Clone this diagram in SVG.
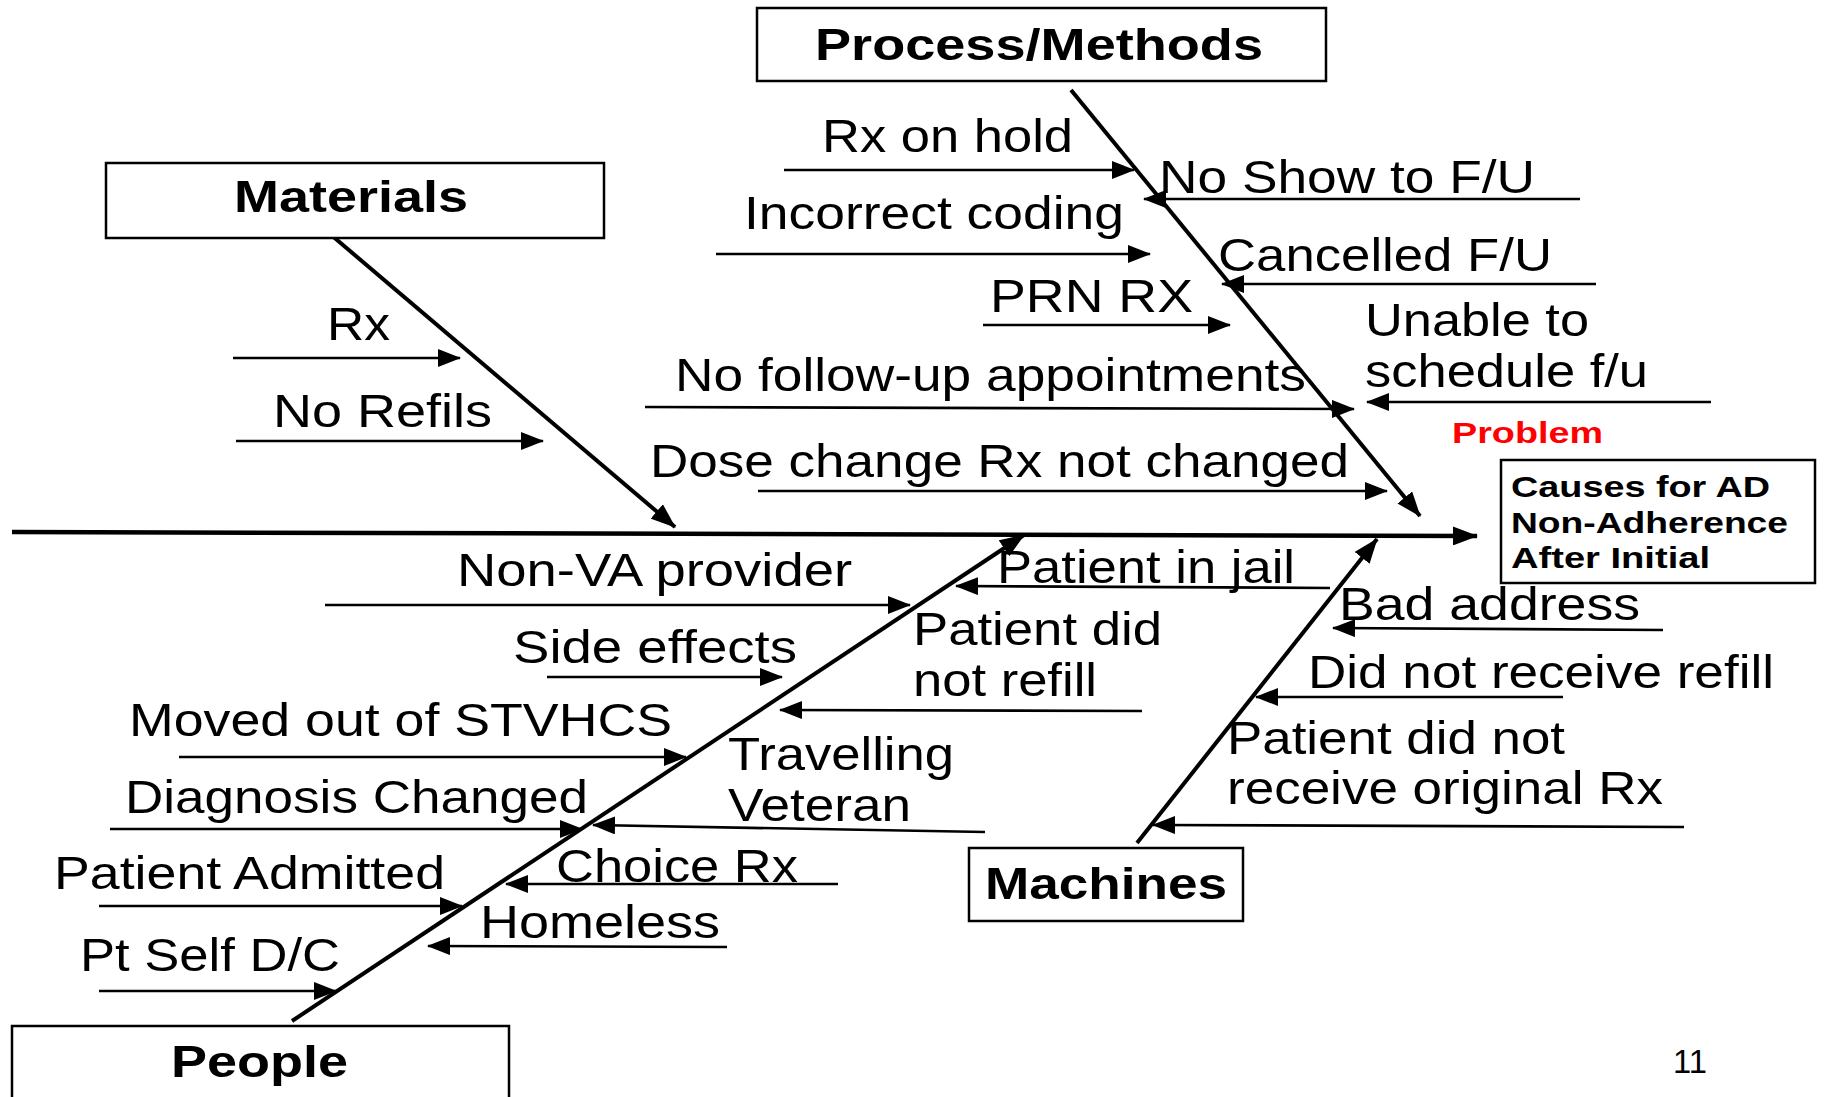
<svg xmlns="http://www.w3.org/2000/svg" width="1824" height="1097" viewBox="0 0 1824 1097">
<style>
.t{font-family:"Liberation Sans",Arial,sans-serif;font-size:46px;fill:#000}
.b{font-weight:bold;font-size:44px}
.s{font-size:30px}
.red{fill:#ff0000}
.box{fill:#fff;stroke:#000;stroke-width:2.5}
.spine{stroke:#000;stroke-width:4.5;fill:none}
.bone{stroke:#000;stroke-width:4;fill:none}
.rib{stroke:#000;stroke-width:2.7;fill:none}
</style>
<defs>
<marker id="ah" markerUnits="userSpaceOnUse" markerWidth="23" markerHeight="18" refX="22" refY="9" orient="auto">
<path d="M0,0 L23,9 L0,18 z" fill="#000"/>
</marker>
<marker id="ahb" markerUnits="userSpaceOnUse" markerWidth="25" markerHeight="19" refX="24" refY="9.5" orient="auto">
<path d="M0,0 L25,9.5 L0,19 z" fill="#000"/>
</marker>
</defs>
<rect width="1824" height="1097" fill="#fff"/>

<g id="connectors">
<line class="spine" x1="12" y1="532" x2="1477" y2="536" marker-end="url(#ahb)"/>
<line class="bone" x1="330" y1="234" x2="675" y2="527" marker-end="url(#ahb)"/>
<line class="bone" x1="1071" y1="90" x2="1420" y2="516" marker-end="url(#ahb)"/>
<line class="bone" x1="292" y1="1021" x2="1024" y2="535" marker-end="url(#ahb)"/>
<line class="bone" x1="1137" y1="843" x2="1377" y2="539" marker-end="url(#ahb)"/>
<!-- process ribs -->
<line class="rib" x1="784" y1="170" x2="1134" y2="170" marker-end="url(#ah)"/>
<line class="rib" x1="1580" y1="199" x2="1144" y2="199" marker-end="url(#ah)"/>
<line class="rib" x1="716" y1="254" x2="1150" y2="254" marker-end="url(#ah)"/>
<line class="rib" x1="1596" y1="284" x2="1222" y2="284" marker-end="url(#ah)"/>
<line class="rib" x1="983" y1="325" x2="1230" y2="325" marker-end="url(#ah)"/>
<line class="rib" x1="1711" y1="402" x2="1367" y2="402" marker-end="url(#ah)"/>
<line class="rib" x1="645" y1="407" x2="1354" y2="409" marker-end="url(#ah)"/>
<line class="rib" x1="758" y1="491" x2="1387" y2="491" marker-end="url(#ah)"/>
<!-- materials ribs -->
<line class="rib" x1="233" y1="358" x2="460" y2="358" marker-end="url(#ah)"/>
<line class="rib" x1="236" y1="441" x2="543" y2="441" marker-end="url(#ah)"/>
<!-- people ribs -->
<line class="rib" x1="325" y1="605" x2="910" y2="605" marker-end="url(#ah)"/>
<line class="rib" x1="547" y1="677" x2="782" y2="677" marker-end="url(#ah)"/>
<line class="rib" x1="179" y1="757" x2="686" y2="757" marker-end="url(#ah)"/>
<line class="rib" x1="110" y1="829" x2="582" y2="829" marker-end="url(#ah)"/>
<line class="rib" x1="99" y1="906" x2="462" y2="906" marker-end="url(#ah)"/>
<line class="rib" x1="99" y1="991" x2="336" y2="991" marker-end="url(#ah)"/>
<line class="rib" x1="1330" y1="588" x2="956" y2="586" marker-end="url(#ah)"/>
<line class="rib" x1="1142" y1="711" x2="780" y2="710" marker-end="url(#ah)"/>
<line class="rib" x1="985" y1="832" x2="593" y2="825" marker-end="url(#ah)"/>
<line class="rib" x1="838" y1="884" x2="506" y2="884" marker-end="url(#ah)"/>
<line class="rib" x1="727" y1="947" x2="428" y2="946" marker-end="url(#ah)"/>
<!-- machines ribs -->
<line class="rib" x1="1663" y1="630" x2="1333" y2="628" marker-end="url(#ah)"/>
<line class="rib" x1="1563" y1="697" x2="1256" y2="697" marker-end="url(#ah)"/>
<line class="rib" x1="1684" y1="827" x2="1153" y2="825" marker-end="url(#ah)"/>
</g>

<g id="process-methods">
<rect class="box" x="757" y="8" width="569" height="73"/>
<text class="t b" x="815" y="60" textLength="448" lengthAdjust="spacingAndGlyphs">Process/Methods</text>
</g>
<g id="materials">
<rect class="box" x="106" y="163" width="498" height="75"/>
<text class="t b" x="234" y="212" textLength="234" lengthAdjust="spacingAndGlyphs">Materials</text>
</g>
<g id="people">
<rect class="box" x="12" y="1026" width="497" height="100"/>
<text class="t b" x="171" y="1077" textLength="177" lengthAdjust="spacingAndGlyphs">People</text>
</g>
<g id="machines">
<rect class="box" x="969" y="848" width="274" height="73"/>
<text class="t b" x="985" y="899" textLength="242" lengthAdjust="spacingAndGlyphs">Machines</text>
</g>
<g id="problem">
<text class="t b s red" x="1452" y="443" textLength="151" lengthAdjust="spacingAndGlyphs">Problem</text>
<rect class="box" x="1501" y="460" width="314" height="123"/>
<text class="t b s" x="1511" y="497" textLength="259" lengthAdjust="spacingAndGlyphs">Causes for AD</text>
<text class="t b s" x="1511" y="533" textLength="277" lengthAdjust="spacingAndGlyphs">Non-Adherence</text>
<text class="t b s" x="1511" y="568" textLength="199" lengthAdjust="spacingAndGlyphs">After Initial</text>
</g>

<g id="cause-rx-on-hold"><text class="t" x="822" y="152" textLength="251" lengthAdjust="spacingAndGlyphs">Rx on hold</text></g>
<g id="cause-no-show"><text class="t" x="1159" y="193" textLength="376" lengthAdjust="spacingAndGlyphs">No Show to F/U</text></g>
<g id="cause-incorrect-coding"><text class="t" x="744" y="229" textLength="380" lengthAdjust="spacingAndGlyphs">Incorrect coding</text></g>
<g id="cause-cancelled"><text class="t" x="1218" y="271" textLength="334" lengthAdjust="spacingAndGlyphs">Cancelled F/U</text></g>
<g id="cause-prn"><text class="t" x="990" y="312" textLength="203" lengthAdjust="spacingAndGlyphs">PRN RX</text></g>
<g id="cause-unable">
<text class="t" x="1365" y="336" textLength="224" lengthAdjust="spacingAndGlyphs">Unable to</text>
<text class="t" x="1365" y="387" textLength="283" lengthAdjust="spacingAndGlyphs">schedule f/u</text>
</g>
<g id="cause-no-followup"><text class="t" x="675" y="391" textLength="631" lengthAdjust="spacingAndGlyphs">No follow-up appointments</text></g>
<g id="cause-dose-change"><text class="t" x="650" y="477" textLength="699" lengthAdjust="spacingAndGlyphs">Dose change Rx not changed</text></g>
<g id="cause-rx"><text class="t" x="327" y="340" textLength="63" lengthAdjust="spacingAndGlyphs">Rx</text></g>
<g id="cause-no-refils"><text class="t" x="273" y="427" textLength="219" lengthAdjust="spacingAndGlyphs">No Refils</text></g>
<g id="cause-non-va"><text class="t" x="457" y="586" textLength="395" lengthAdjust="spacingAndGlyphs">Non-VA provider</text></g>
<g id="cause-jail"><text class="t" x="997" y="583" textLength="298" lengthAdjust="spacingAndGlyphs">Patient in jail</text></g>
<g id="cause-bad-address"><text class="t" x="1339" y="620" textLength="301" lengthAdjust="spacingAndGlyphs">Bad address</text></g>
<g id="cause-side-effects"><text class="t" x="513" y="663" textLength="284" lengthAdjust="spacingAndGlyphs">Side effects</text></g>
<g id="cause-did-not-refill">
<text class="t" x="913" y="645" textLength="249" lengthAdjust="spacingAndGlyphs">Patient did</text>
<text class="t" x="913" y="696" textLength="184" lengthAdjust="spacingAndGlyphs">not refill</text>
</g>
<g id="cause-not-receive-refill"><text class="t" x="1308" y="688" textLength="466" lengthAdjust="spacingAndGlyphs">Did not receive refill</text></g>
<g id="cause-moved"><text class="t" x="129" y="736" textLength="543" lengthAdjust="spacingAndGlyphs">Moved out of STVHCS</text></g>
<g id="cause-travelling">
<text class="t" x="728" y="770" textLength="226" lengthAdjust="spacingAndGlyphs">Travelling</text>
<text class="t" x="728" y="821" textLength="183" lengthAdjust="spacingAndGlyphs">Veteran</text>
</g>
<g id="cause-not-receive-original">
<text class="t" x="1227" y="754" textLength="338" lengthAdjust="spacingAndGlyphs">Patient did not</text>
<text class="t" x="1227" y="804" textLength="436" lengthAdjust="spacingAndGlyphs">receive original Rx</text>
</g>
<g id="cause-diagnosis"><text class="t" x="125" y="813" textLength="463" lengthAdjust="spacingAndGlyphs">Diagnosis Changed</text></g>
<g id="cause-choice"><text class="t" x="556" y="882" textLength="242" lengthAdjust="spacingAndGlyphs">Choice Rx</text></g>
<g id="cause-admitted"><text class="t" x="54" y="889" textLength="391" lengthAdjust="spacingAndGlyphs">Patient Admitted</text></g>
<g id="cause-homeless"><text class="t" x="480" y="938" textLength="240" lengthAdjust="spacingAndGlyphs">Homeless</text></g>
<g id="cause-self-dc"><text class="t" x="80" y="971" textLength="260" lengthAdjust="spacingAndGlyphs">Pt Self D/C</text></g>

<text class="t" style="font-size:33px" x="1673" y="1073" textLength="34" lengthAdjust="spacingAndGlyphs">11</text>
</svg>
